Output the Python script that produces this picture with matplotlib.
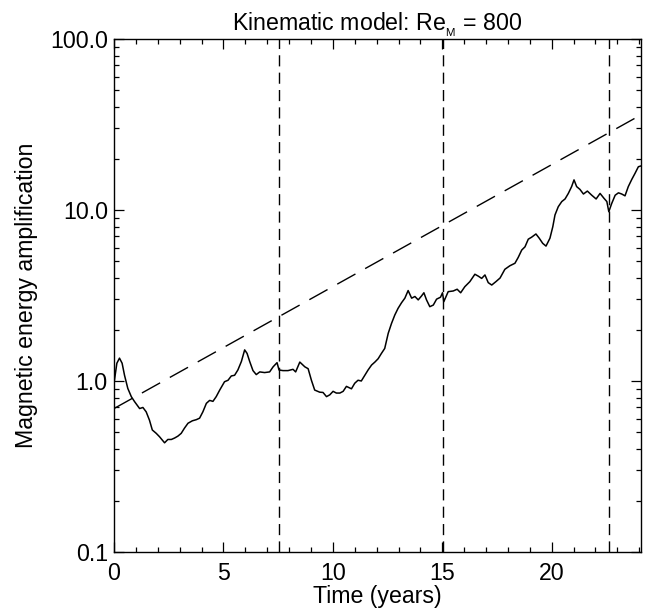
import matplotlib
matplotlib.use('Agg')
import matplotlib.pyplot as plt
from matplotlib.ticker import FixedLocator, LogLocator, FuncFormatter, NullFormatter

plt.rcParams['font.family'] = ['Liberation Sans', 'DejaVu Sans']
plt.rcParams['mathtext.fontset'] = 'custom'
plt.rcParams['mathtext.rm'] = 'Liberation Sans'
plt.rcParams['mathtext.it'] = 'Liberation Sans:italic'

# magnetic energy amplification vs time (years)
time = [0.0, 0.13, 0.25, 0.37, 0.48, 0.63, 0.79, 0.94, 1.17, 1.32, 1.47, 1.62,
        1.75, 1.93, 2.08, 2.31, 2.46, 2.62, 2.77, 2.92, 3.07, 3.22, 3.38, 3.58,
        3.76, 3.91, 4.06, 4.22, 4.37, 4.52, 4.67, 4.83, 5.05, 5.21, 5.36, 5.51,
        5.66, 5.82, 5.97, 6.08, 6.2, 6.35, 6.5, 6.66, 6.88, 7.11, 7.27, 7.45,
        7.54, 7.72, 7.95, 8.18, 8.3, 8.49, 8.72, 8.87, 9.02, 9.17, 9.4, 9.55,
        9.71, 9.86, 10.01, 10.16, 10.32, 10.47, 10.62, 10.85, 11.0, 11.15, 11.3,
        11.46, 11.61, 11.77, 11.92, 12.07, 12.22, 12.37, 12.53, 12.68, 12.83,
        12.98, 13.14, 13.29, 13.44, 13.6, 13.75, 13.9, 14.05, 14.16, 14.28,
        14.43, 14.59, 14.74, 14.92, 15.01, 15.07, 15.27, 15.5, 15.68, 15.84,
        16.03, 16.26, 16.49, 16.65, 16.8, 16.95, 17.1, 17.26, 17.45, 17.64,
        17.86, 18.09, 18.32, 18.47, 18.63, 18.78, 18.93, 19.08, 19.28, 19.43,
        19.59, 19.74, 19.92, 20.05, 20.15, 20.3, 20.46, 20.61, 20.76, 20.91,
        21.02, 21.14, 21.29, 21.45, 21.63, 21.83, 22.03, 22.21, 22.39, 22.52,
        22.61, 22.74, 22.9, 23.05, 23.2, 23.35, 23.5, 23.66, 23.81, 23.96, 24.08]
amplification = [0.97, 1.27, 1.36, 1.27, 1.08, 0.905, 0.81, 0.757, 0.69, 0.70,
                 0.66, 0.59, 0.517, 0.494, 0.472, 0.435, 0.455, 0.455, 0.464,
                 0.476, 0.494, 0.53, 0.566, 0.585, 0.594, 0.606, 0.66, 0.74,
                 0.77, 0.76, 0.81, 0.885, 0.99, 1.01, 1.07, 1.08, 1.16, 1.30,
                 1.52, 1.45, 1.30, 1.15, 1.09, 1.13, 1.12, 1.13, 1.21, 1.28,
                 1.16, 1.15, 1.15, 1.17, 1.13, 1.29, 1.21, 1.18, 1.01, 0.885,
                 0.86, 0.857, 0.81, 0.83, 0.87, 0.85, 0.85, 0.87, 0.93, 0.90,
                 0.97, 1.01, 1.0, 1.08, 1.16, 1.24, 1.29, 1.35, 1.45, 1.55,
                 1.9, 2.17, 2.43, 2.66, 2.87, 3.05, 3.38, 3.05, 3.12, 2.98,
                 3.14, 3.28, 2.98, 2.72, 2.78, 3.01, 3.09, 3.28, 2.91, 3.33,
                 3.36, 3.44, 3.28, 3.56, 3.81, 4.21, 4.1, 3.98, 4.17, 3.76,
                 3.64, 3.81, 4.0, 4.5, 4.72, 4.88, 5.28, 5.83, 6.09, 6.75,
                 6.93, 7.24, 6.84, 6.38, 6.15, 6.84, 7.98, 9.35, 10.45, 11.2,
                 11.6, 12.5, 13.7, 15.0, 13.7, 13.2, 12.4, 12.9, 12.2, 11.6,
                 12.5, 11.7, 11.2, 9.77, 10.9, 12.2, 12.6, 12.4, 12.1, 13.7,
                 15.1, 16.4, 17.9, 18.1]

# exponential growth reference line (end points)
fit_time = [0.0, 24.08]
fit_amp = [0.69, 36.0]

# vertical markers
marker_times = [7.53, 15.05, 22.6]

fig = plt.figure(figsize=(6.53, 6.14), dpi=100)
ax = fig.add_axes([0.1746, 0.101, 0.8070, 0.8355])

ax.plot(time, amplification, color='black', lw=1.1)
ax.plot(fit_time, fit_amp, color='black', lw=1.0, dashes=(15, 8))
for t in marker_times:
    ax.axvline(t, color='black', lw=1.0, dashes=(8, 4.5))

ax.set_yscale('log')
ax.set_xlim(0, 24.08)
ax.set_ylim(0.1, 100)

ax.xaxis.set_major_locator(FixedLocator([0, 5, 10, 15, 20]))
ax.xaxis.set_minor_locator(FixedLocator(range(0, 25)))
ax.yaxis.set_major_locator(FixedLocator([0.1, 1, 10, 100]))
ax.yaxis.set_minor_locator(LogLocator(base=10, subs=range(2, 10)))
ax.yaxis.set_major_formatter(FuncFormatter(lambda v, pos: f'{v:.1f}'))
ax.yaxis.set_minor_formatter(NullFormatter())

ax.tick_params(which='both', direction='in', top=True, right=True,
               labelsize=16.7, width=0.9)
ax.tick_params(which='major', length=7)
ax.tick_params(which='minor', length=3.5)
ax.tick_params(axis='x', which='major', pad=7.5)
ax.tick_params(axis='y', which='major', pad=4.5)
for s in ax.spines.values():
    s.set_linewidth(1.0)

ax.set_xlabel('Time (years)', fontsize=16.7, labelpad=0)
ax.set_ylabel('Magnetic energy amplification', fontsize=16.7, labelpad=8.6)
ax.set_title(r'Kinematic model: Re$_\mathregular{_M}$ = 800', fontsize=16.7, pad=6)

plt.savefig('out.png', dpi=100)
